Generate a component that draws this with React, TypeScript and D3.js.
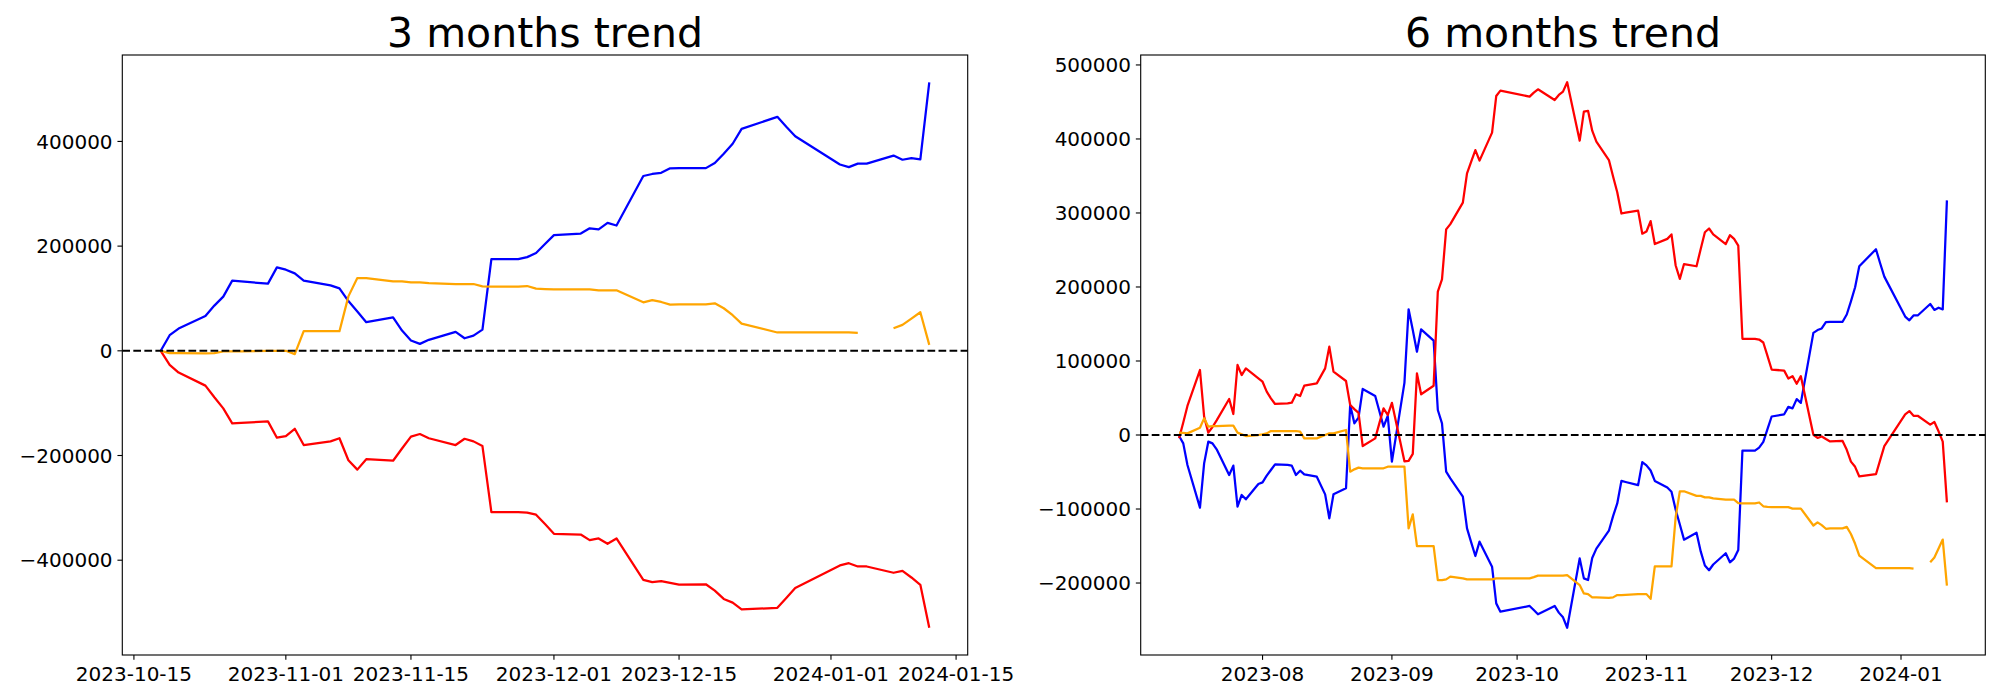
import React from "react";
import * as d3 from "d3";

// ---------- 3 months data (cumulative, rebased at 2023-10-18) ----------
const dates3m = [
  "2023-10-18","2023-10-19","2023-10-20","2023-10-23","2023-10-24","2023-10-25","2023-10-26","2023-10-27","2023-10-30","2023-10-31",
  "2023-11-01","2023-11-02","2023-11-03","2023-11-06","2023-11-07","2023-11-08","2023-11-09","2023-11-10","2023-11-13","2023-11-14",
  "2023-11-15","2023-11-16","2023-11-17","2023-11-20","2023-11-21","2023-11-22","2023-11-23","2023-11-24","2023-11-27","2023-11-28",
  "2023-11-29","2023-11-30","2023-12-01","2023-12-04","2023-12-05","2023-12-06","2023-12-07","2023-12-08","2023-12-11","2023-12-12",
  "2023-12-13","2023-12-14","2023-12-15","2023-12-18","2023-12-19","2023-12-20","2023-12-21","2023-12-22","2023-12-26","2023-12-27",
  "2023-12-28","2024-01-02","2024-01-03","2024-01-04","2024-01-05","2024-01-08","2024-01-09","2024-01-10","2024-01-11","2024-01-12",
];
const blue3m = [
  0, 29800, 42500, 66700, 86400, 103500, 134000, 132500, 128300, 159400,
  155000, 148000, 134000, 125000, 119400, 95000, 75000, 54600, 64000, 38700,
  19700, 13300, 21000, 36200, 24000, 29000, 40600, 175000, 175000, 179000,
  186700, 204000, 221000, 224000, 234000, 232000, 244500, 239400, 334000, 337800,
  340000, 348600, 349000, 349000, 358800, 376600, 395600, 424000, 447000, 428000,
  410000, 356000, 351000, 357500, 357500, 373000, 365000, 368000, 365800, 513000,
];
const red3m = [
  0, -26800, -41500, -66500, -88800, -110000, -138700, -137500, -134800, -166000,
  -163000, -149000, -180000, -173000, -167000, -209000, -227000, -207000, -210000, -186600,
  -164000, -159000, -167000, -180000, -168000, -173000, -182000, -308000, -308000, -309000,
  -313000, -331000, -349500, -351000, -361700, -358500, -368700, -358500, -437700, -442000,
  -440000, -443500, -446700, -446000, -458000, -474000, -481000, -494000, -491000, -472000,
  -453000, -410000, -405700, -412000, -412000, -424000, -420500, -433000, -447000, -529000,
];
const orange3m: (number | null)[] = [
  0, -4400, -4400, -5000, -4400, -1300, -1300, -1000, 0, 0,
  0, -6400, 37500, 37500, 37500, 104000, 139000, 139000, 132700, 132700,
  130800, 130800, 129500, 127600, 127600, 127600, 123000, 122600, 122600, 123800,
  118700, 118000, 117500, 117500, 117500, 115600, 115600, 115600, 92700, 97000,
  93300, 88300, 88900, 88900, 90800, 81300, 68000, 52000, 35000, 35000,
  35000, 35000, 35000, 34300, null, 43000, 49500, 61600, 73700, 11400,
];

// ---------- 6 months data (cumulative from 2023-07-12) ----------
const dates6m = [
  "2023-07-12","2023-07-13","2023-07-14","2023-07-17","2023-07-18","2023-07-19","2023-07-20","2023-07-21","2023-07-24","2023-07-25",
  "2023-07-26","2023-07-27","2023-07-28","2023-07-31","2023-08-01","2023-08-02","2023-08-03","2023-08-04","2023-08-07","2023-08-08",
  "2023-08-09","2023-08-10","2023-08-11","2023-08-14","2023-08-16","2023-08-17","2023-08-18","2023-08-21","2023-08-22","2023-08-23",
  "2023-08-24","2023-08-25","2023-08-28","2023-08-29","2023-08-30","2023-08-31","2023-09-01","2023-09-04","2023-09-05","2023-09-06",
  "2023-09-07","2023-09-08","2023-09-11","2023-09-12","2023-09-13","2023-09-14","2023-09-15","2023-09-18","2023-09-19","2023-09-20",
  "2023-09-21","2023-09-22","2023-09-25","2023-09-26","2023-09-27","2023-10-04","2023-10-05","2023-10-06","2023-10-10","2023-10-11",
  "2023-10-12","2023-10-13","2023-10-16","2023-10-17",
  "2023-10-18","2023-10-19","2023-10-20","2023-10-23","2023-10-24","2023-10-25","2023-10-26","2023-10-27","2023-10-30","2023-10-31",
  "2023-11-01","2023-11-02","2023-11-03","2023-11-06","2023-11-07","2023-11-08","2023-11-09","2023-11-10","2023-11-13","2023-11-14",
  "2023-11-15","2023-11-16","2023-11-17","2023-11-20","2023-11-21","2023-11-22","2023-11-23","2023-11-24","2023-11-27","2023-11-28",
  "2023-11-29","2023-11-30","2023-12-01","2023-12-04","2023-12-05","2023-12-06","2023-12-07","2023-12-08","2023-12-11","2023-12-12",
  "2023-12-13","2023-12-14","2023-12-15","2023-12-18","2023-12-19","2023-12-20","2023-12-21","2023-12-22","2023-12-26","2023-12-27",
  "2023-12-28","2024-01-02","2024-01-03","2024-01-04","2024-01-05","2024-01-08","2024-01-09","2024-01-10","2024-01-11","2024-01-12",
];
const blue6m = [
  -1400, -11300, -40500, -98200, -38300, -9000, -11300, -19400, -54000, -41400,
  -96800, -81000, -86900, -66200, -64000, -55000, -47300, -39600, -40500, -41400,
  -54000, -48200, -53200, -56300, -80200, -112600, -80000, -72000, 40500, 15800,
  23400, 62200, 52700, 32000, 11300, 25700, -36000, 70500, 169800, 141900,
  112600, 142800, 127500, 33800, 15800, -49500, -58600, -83300, -126100, -145000,
  -163500, -144100, -177900, -227500, -238700, -231000, -236500, -242300, -231000, -240000,
  -246400, -260400, -166700, -193700,
  -196000, -166200, -153500, -129300, -109600, -92500, -62000, -63500, -67700, -36600,
  -41000, -48000, -62000, -71000, -76600, -101000, -121000, -141400, -132000, -157300,
  -176300, -182700, -175000, -159800, -172000, -167000, -155400, -21000, -21000, -17000,
  -9300, 8000, 25000, 28000, 38000, 36000, 48500, 43400, 138000, 141800,
  144000, 152600, 153000, 153000, 162800, 180600, 199600, 228000, 251000, 232000,
  214000, 160000, 155000, 161500, 161500, 177000, 169000, 172000, 169800, 317000,
];
const red6m = [
  -4500, 17000, 39200, 87800, 24800, 3200, 10800, 19800, 48600, 28400,
  94600, 81000, 90000, 76600, 72000, 58600, 49500, 41900, 42800, 43700,
  55000, 52700, 66700, 69800, 90000, 119400, 85600, 73000, 40500, 35000,
  30000, -14900, -4500, 16000, 36000, 27000, 43500, -35500, -35000, -25500,
  83300, 55000, 66500, 193700, 210300, 277900, 285000, 314000, 353600, 369400,
  385000, 370700, 408600, 458000, 465300, 457200, 462600, 467100, 452700, 459500,
  464000, 476600, 397700, 437000,
  438000, 411200, 396500, 371500, 349200, 328000, 299300, 300500, 303200, 272000,
  275000, 289000, 258000, 265000, 271000, 229000, 211000, 231000, 228000, 251400,
  274000, 279000, 271000, 258000, 270000, 265000, 256000, 130000, 130000, 129000,
  125000, 107000, 88500, 87000, 76300, 79500, 69300, 79500, 300, -4000,
  -2000, -5500, -8700, -8000, -20000, -36000, -43000, -56000, -53000, -34000,
  -15000, 28000, 32300, 26000, 26000, 14000, 17500, 5000, -9000, -91000,
];
const orange6m: (number | null)[] = [
  3200, 3000, 2200, 9900, 22500, 11300, 12000, 12000, 12600, 12600,
  3200, 900, -1400, 0, 900, 2200, 5400, 5400, 5400, 5400,
  5400, 4500, -4500, -4500, 0, 2200, 2200, 6800, -49500, -46400,
  -44100, -45000, -45000, -45000, -45000, -42800, -42800, -42800, -126100, -107200,
  -150000, -150000, -150000, -196000, -196000, -195000, -191400, -193700, -195000, -195000,
  -195000, -195000, -195000, -193700, -193700, -193700, -192000, -190000, -190000, -190000,
  -190000, -189200, -202700, -214000,
  -215000, -219400, -219400, -220000, -219400, -216300, -216300, -216000, -215000, -215000,
  -215000, -221400, -177500, -177500, -177500, -111000, -76000, -76000, -82300, -82300,
  -84200, -84200, -85500, -87400, -87400, -87400, -92000, -92400, -92400, -91200,
  -96300, -97000, -97500, -97500, -97500, -99400, -99400, -99400, -122300, -118000,
  -121700, -126700, -126100, -126100, -124200, -133700, -147000, -163000, -180000, -180000,
  -180000, -180000, -180000, -180700, null, -172000, -165500, -153400, -141300, -203600,
];

// ---------- ticks ----------
const xticks3m = ["2023-10-15", "2023-11-01", "2023-11-15", "2023-12-01", "2023-12-15", "2024-01-01", "2024-01-15"];
const xticks6m = ["2023-08-01", "2023-09-01", "2023-10-01", "2023-11-01", "2023-12-01", "2024-01-01"];
const yticks3m = [-400000, -200000, 0, 200000, 400000];
const yticks6m = [-200000, -100000, 0, 100000, 200000, 300000, 400000, 500000];

const FONT = "'DejaVu Sans', sans-serif";
const parse = (s: string) => new Date(s + "T00:00:00Z");

type Series = { color: string; values: (number | null)[] };

function Panel(props: {
  left: number; right: number; top: number; bottom: number;
  title: string; dates: string[]; series: Series[];
  xticks: string[]; xfmt: (d: Date) => string; yticks: number[];
}) {
  const { left, right, top, bottom, title, dates, series, xticks, xfmt, yticks } = props;
  const ds = dates.map(parse);
  const [dmin, dmax] = d3.extent(ds) as [Date, Date];
  const span = +dmax - +dmin;
  const x = d3.scaleUtc().domain([new Date(+dmin - 0.05 * span), new Date(+dmax + 0.05 * span)]).range([left, right]);
  const all: number[] = [];
  series.forEach((s) => s.values.forEach((v) => { if (v != null) all.push(v); }));
  const [vmin, vmax] = d3.extent(all) as [number, number];
  const vs = vmax - vmin;
  const y = d3.scaleLinear().domain([vmin - 0.05 * vs, vmax + 0.05 * vs]).range([bottom, top]);
  const line = d3.line<[Date, number | null]>()
    .defined((d) => d[1] != null)
    .x((d) => x(d[0]))
    .y((d) => y(d[1] as number));
  const tickLen = 4.86;
  const fmtY = (v: number) => (v < 0 ? "\u2212" + Math.abs(v) : String(v));
  return (
    <g>
      {series.map((s, i) => (
        <path key={i} d={line(ds.map((d, j) => [d, s.values[j]] as [Date, number | null])) || ""}
          fill="none" stroke={s.color} strokeWidth={2.25} strokeLinejoin="round" strokeLinecap="butt" />
      ))}
      <line x1={left} x2={right} y1={y(0)} y2={y(0)} stroke="black" strokeWidth={2.08} strokeDasharray="7.7,3.33" />
      <rect x={left} y={top} width={right - left} height={bottom - top} fill="none" stroke="black" strokeWidth={1.11} />
      {xticks.map((t) => {
        const xx = x(parse(t));
        return (
          <g key={t}>
            <line x1={xx} x2={xx} y1={bottom} y2={bottom + tickLen} stroke="black" strokeWidth={1.11} />
            <text x={xx} y={bottom + 26} textAnchor="middle" fontFamily={FONT} fontSize={20} fill="black">{xfmt(parse(t))}</text>
          </g>
        );
      })}
      {yticks.map((t) => {
        const yy = y(t);
        return (
          <g key={t}>
            <line x1={left - tickLen} x2={left} y1={yy} y2={yy} stroke="black" strokeWidth={1.11} />
            <text x={left - 9.7} y={yy + 7.3} textAnchor="end" fontFamily={FONT} fontSize={20} fill="black">{fmtY(t)}</text>
          </g>
        );
      })}
      <text x={(left + right) / 2} y={top - 8.3} textAnchor="middle" fontFamily={FONT} fontSize={41} fill="black">{title}</text>
    </g>
  );
}

export default function App() {
  const fmtDay = d3.utcFormat("%Y-%m-%d");
  const fmtMonth = d3.utcFormat("%Y-%m");
  return (
    <svg width={2000} height={700} style={{ position: "absolute", left: 0, top: 0, background: "white" }}>
      <rect x={0} y={0} width={2000} height={700} fill="white" />
      <Panel left={122.3} right={967.7} top={55} bottom={655} title="3 months trend"
        dates={dates3m}
        series={[{ color: "blue", values: blue3m }, { color: "red", values: red3m }, { color: "orange", values: orange3m }]}
        xticks={xticks3m} xfmt={fmtDay} yticks={yticks3m} />
      <Panel left={1140.7} right={1985.3} top={55} bottom={655} title="6 months trend"
        dates={dates6m}
        series={[{ color: "blue", values: blue6m }, { color: "red", values: red6m }, { color: "orange", values: orange6m }]}
        xticks={xticks6m} xfmt={fmtMonth} yticks={yticks6m} />
    </svg>
  );
}
